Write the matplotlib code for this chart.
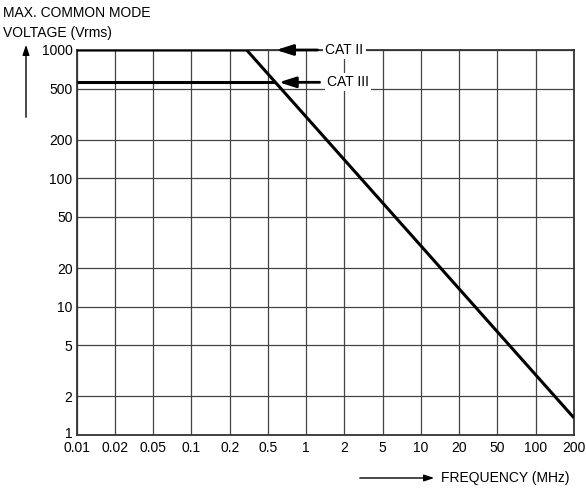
import numpy as np
import matplotlib
matplotlib.use('Agg')
from matplotlib import pyplot as plt
from matplotlib.patches import FancyArrowPatch
from matplotlib.transforms import ScaledTranslation

plt.rcParams['font.family'] = ['Liberation Sans', 'DejaVu Sans']

# tick labels of the chart (x axis is drawn with equal spacing between labels)
freq_ticks = [0.01, 0.02, 0.05, 0.1, 0.2, 0.5, 1, 2, 5, 10, 20, 50, 100, 200]
freq_labels = ['0.01', '0.02', '0.05', '0.1', '0.2', '0.5', '1', '2', '5', '10', '20', '50', '100', '200']
volt_ticks = [1, 2, 5, 10, 20, 50, 100, 200, 500, 1000]

# derating curves (MHz, Vrms)
cat2_freq = [0.01, 0.3, 200]
cat2_volt = [1000, 1000, 1.36]
cat3_freq = [0.01, 0.57]
cat3_volt = [560, 560]

# arrow tips of the labels (MHz)
cat2_tip = 0.58
cat3_tip = 0.61

fs = 10

def pos(f):
    # frequency -> position on the evenly spaced x axis
    return np.interp(np.log10(f), np.log10(freq_ticks), np.arange(len(freq_ticks)))

fig = plt.figure(figsize=(5.86, 4.93), dpi=100)
ax = fig.add_axes([0.1309, 0.1176, 0.9795 - 0.1309, 0.8986 - 0.1176])

ax.set_yscale('log')
ax.set_xlim(0, len(freq_ticks) - 1)
ax.set_ylim(1, 1000)
ax.set_xticks(np.arange(len(freq_ticks)))
ax.set_xticklabels(freq_labels)
ax.set_yticks(volt_ticks)
ax.set_yticklabels([str(v) for v in volt_ticks])
ax.minorticks_off()
ax.tick_params(length=0, labelsize=fs, pad=3, colors='black')
ax.tick_params(axis='x', pad=4)
ax.grid(True, color='#444444', lw=0.9)
for s in ax.spines.values():
    s.set_color('#333333')
    s.set_linewidth(1.3)

# lift the "1" label a little so it clears the x labels
lbl = ax.get_yticklabels()[0]
lbl.set_transform(lbl.get_transform() + ScaledTranslation(0, 3 / 100, fig.dpi_scale_trans))

ax.plot(pos(cat2_freq), cat2_volt, color='black', lw=2.2, solid_capstyle='butt', zorder=3)
ax.plot(pos(cat3_freq), cat3_volt, color='black', lw=2.2, solid_capstyle='butt', zorder=3)

arrow = dict(arrowstyle='-|>,head_length=1.0,head_width=0.32', color='black', lw=2.0,
             shrinkA=4, shrinkB=0)
ax.annotate('CAT II', xy=(pos(cat2_tip), 1000), xytext=(6.5, 1000), fontsize=fs,
            va='center', ha='left', arrowprops=arrow, zorder=4,
            bbox=dict(facecolor='white', edgecolor='none', pad=1.5))
ax.annotate('CAT III', xy=(pos(cat3_tip), 560), xytext=(6.55, 560), fontsize=fs,
            va='center', ha='left', arrowprops=arrow, zorder=4,
            bbox=dict(facecolor='white', edgecolor='none', pad=1.5))

# axis captions outside the plot
fig.text(3 / 586, 1 - 13 / 493, 'MAX. COMMON MODE', fontsize=fs, va='center', ha='left')
fig.text(3 / 586, 1 - 33 / 493, 'VOLTAGE (Vrms)', fontsize=fs, va='center', ha='left')
small = '-|>,head_length=0.6,head_width=0.2'
fig.add_artist(FancyArrowPatch(
    (26 / 586, 1 - 120 / 493), (26 / 586, 1 - 42 / 493), transform=fig.transFigure,
    arrowstyle=small, color='black', lw=1.0, mutation_scale=10))
fig.add_artist(FancyArrowPatch(
    (357 / 586, 1 - 478 / 493), (437 / 586, 1 - 478 / 493), transform=fig.transFigure,
    arrowstyle=small, color='black', lw=1.0, mutation_scale=10))
fig.text(441 / 586, 1 - 478 / 493, 'FREQUENCY (MHz)', fontsize=fs, va='center', ha='left')

fig.savefig('out.png', dpi=100)
